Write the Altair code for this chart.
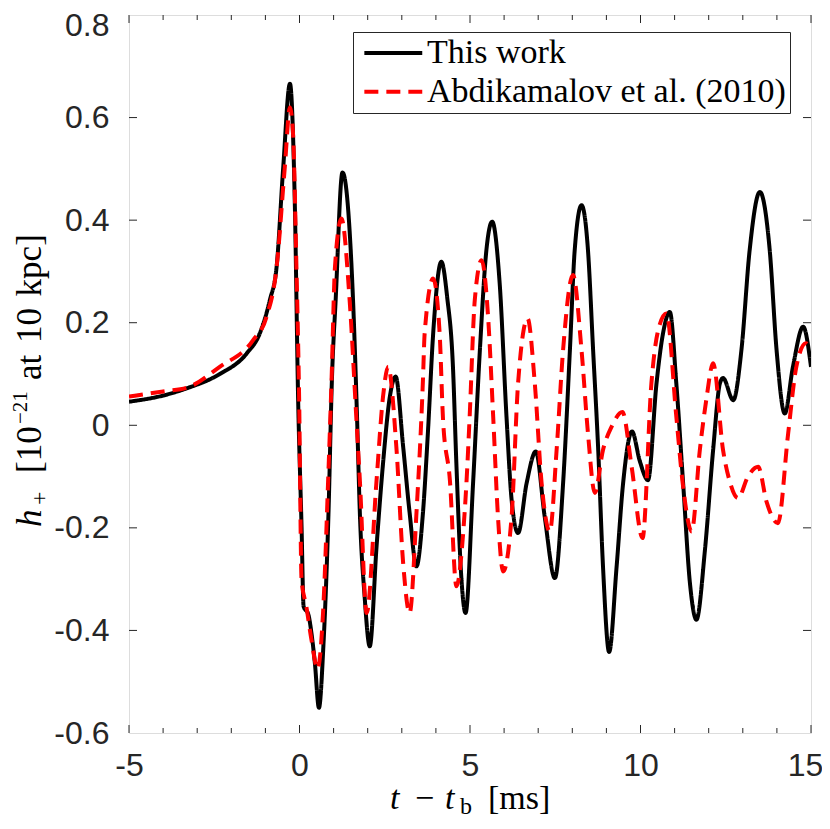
import altair as alt
import pandas as pd

# ---- data ----
t_this = [-5.0, -4.0, -3.31, -2.34, -1.55, -1.16, -0.87, -0.67, -0.48, -0.28, -0.14, -0.04,
          0.06, 0.12, 0.26, 0.35, 0.45, 0.57, 0.70, 0.85, 0.95, 1.06, 1.26, 1.57, 1.69, 1.77,
          1.91, 2.06, 2.26, 2.45, 2.65, 2.82, 3.04, 3.23, 3.43, 3.62, 3.77, 3.92, 4.16, 4.33,
          4.50, 4.60, 4.75, 4.87, 5.09, 5.29, 5.48, 5.65, 5.87, 6.07, 6.22, 6.41, 6.66, 6.93,
          7.19, 7.49, 7.73, 7.93, 8.07, 8.27, 8.46, 8.61, 8.76, 8.90, 9.08, 9.30, 9.49, 9.75,
          9.98, 10.22, 10.47, 10.66, 10.86, 11.05, 11.25, 11.45, 11.64, 11.89, 12.13, 12.33,
          12.42, 12.72, 12.96, 13.20, 13.50, 13.79, 13.99, 14.23, 14.47, 14.77, 15.0]
h_this = [0.046, 0.058, 0.072, 0.100, 0.140, 0.180, 0.244, 0.310, 0.500, 0.666, 0.440, 0.050,
          -0.197, -0.353, -0.369, -0.405, -0.463, -0.551, -0.431, -0.171, 0.088, 0.244, 0.493,
          0.244, 0.010, -0.171, -0.334, -0.431, -0.236, -0.074, 0.056, 0.095, -0.042, -0.171,
          -0.275, -0.171, -0.009, 0.179, 0.319, 0.250, 0.114, -0.074, -0.301, -0.366, -0.113,
          0.147, 0.341, 0.397, 0.277, 0.017, -0.145, -0.210, -0.113, -0.051, -0.178, -0.298,
          -0.113, 0.147, 0.341, 0.429, 0.341, 0.147, -0.048, -0.275, -0.442, -0.275, -0.113,
          -0.012, -0.070, -0.107, 0.082, 0.179, 0.221, 0.082, -0.113, -0.308, -0.379, -0.243,
          -0.048, 0.082, 0.092, 0.049, 0.147, 0.341, 0.455, 0.341, 0.147, 0.023, 0.114, 0.192,
          0.114]

t_abd = [-5.0, -4.0, -3.31, -2.34, -1.36, -0.97, -0.67, -0.43, -0.28, -0.19, -0.09, -0.01,
         0.06, 0.20, 0.35, 0.53, 0.69, 0.84, 0.94, 1.04, 1.23, 1.47, 1.67, 1.77, 1.97, 2.26,
         2.45, 2.60, 2.84, 3.04, 3.23, 3.43, 3.62, 3.67, 3.92, 4.11, 4.21, 4.41, 4.60, 4.80,
         4.90, 4.99, 5.14, 5.34, 5.53, 5.68, 5.82, 5.97, 6.22, 6.41, 6.69, 6.90, 7.10, 7.34,
         7.54, 7.73, 8.02, 8.27, 8.46, 8.66, 8.90, 9.15, 9.47, 9.74, 10.06, 10.32, 10.50,
         10.76, 11.05, 11.25, 11.50, 11.74, 11.93, 12.13, 12.42, 12.62, 12.86, 13.15, 13.45,
         13.70, 14.03, 14.33, 14.57, 14.85, 15.0]
h_abd = [0.056, 0.066, 0.073, 0.114, 0.166, 0.211, 0.309, 0.504, 0.620, 0.569, 0.309, 0.049,
         -0.301, -0.353, -0.418, -0.475, -0.366, -0.107, 0.088, 0.309, 0.403, 0.244, 0.010,
         -0.107, -0.366, -0.107, 0.056, 0.114, -0.042, -0.269, -0.366, -0.171, 0.088, 0.179,
         0.286, 0.179, 0.010, -0.107, -0.314, -0.210, -0.107, 0.017, 0.244, 0.322, 0.212,
         0.017, -0.178, -0.285, -0.178, 0.082, 0.208, 0.082, -0.113, -0.207, -0.048, 0.147,
         0.293, 0.147, -0.016, -0.132, -0.048, -0.003, 0.026, -0.081, -0.220, 0.082, 0.180,
         0.218, 0.017, -0.120, -0.207, -0.048, 0.050, 0.121, -0.048, -0.110, -0.142, -0.100,
         -0.081, -0.150, -0.191, -0.016, 0.114, 0.160, 0.147]

series_names = ["This work", "Abdikamalov et al. (2010)"]
x_major = [-5, 0, 5, 10, 15]
x_minor = [-4, -3, -2, -1, 1, 2, 3, 4, 6, 7, 8, 9, 11, 12, 13, 14]
y_labels = [-0.6, -0.4, -0.2, 0, 0.2, 0.4, 0.6, 0.8]
y_inner = [-0.4, -0.2, 0, 0.2, 0.4, 0.6]

# ---- layout constants ----
W, H = 682, 718
AX = "#262626"
SERIF = "Liberation Serif, Times New Roman, DejaVu Serif, serif"
SANS = "Liberation Sans, Arial, Helvetica, sans-serif"

df = pd.concat([
    pd.DataFrame({"t": t_this, "h": h_this, "s": series_names[0]}),
    pd.DataFrame({"t": t_abd, "h": h_abd, "s": series_names[1]}),
])

xs = alt.Scale(domain=[-5, 15], nice=False, zero=False)
ys = alt.Scale(domain=[-0.6, 0.8], nice=False, zero=False)

SYM = 19.3
legend_kw = dict(title=None, orient="none", legendX=224, legendY=17,
                 strokeColor=AX, fillColor="white", padding=4,
                 symbolType="M-1.0,0L5.0,0", symbolSize=SYM * SYM,
                 symbolStrokeWidth=4, labelFont=SERIF, labelFontSize=34,
                 labelColor="black", labelLimit=1000, labelOffset=36,
                 rowPadding=4.7, cornerRadius=0)

lines = alt.Chart(df).mark_line(strokeWidth=4, interpolate="monotone", clip=True).encode(
    x=alt.X("t:Q", scale=xs,
            axis=alt.Axis(values=x_major, tickSize=0, domain=False, grid=False, title=None,
                          labelFont=SANS, labelFontSize=32, labelColor=AX, labelPadding=17,
                          labelFlush=False,
                          labelOffset={"condition": {"test": "datum.value > 14", "value": -6},
                                       "value": 0},
                          labelExpr="toString(datum.value)")),
    y=alt.Y("h:Q", scale=ys,
            axis=alt.Axis(values=y_labels, tickSize=0, domain=False, grid=False, title=None,
                          labelFont=SANS, labelFontSize=32, labelColor=AX, labelPadding=20,
                          labelFlush=False,
                          labelOffset={"condition": {"test": "datum.value > 0.7", "value": 10},
                                       "value": 0},
                          labelExpr="toString(datum.value)")),
    color=alt.Color("s:N", sort=series_names,
                    scale=alt.Scale(domain=series_names, range=["#000000", "#ff0000"]),
                    legend=alt.Legend(**legend_kw)),
    strokeDash=alt.StrokeDash("s:N", sort=series_names,
                              scale=alt.Scale(domain=series_names, range=[[1, 0], [14, 8]]),
                              legend=alt.Legend(**legend_kw)),
    order=alt.Order("t:Q"),
)

# inward ticks
def xticks(vals, length, bottom=True):
    d = pd.DataFrame({"t": vals})
    y1, y2 = (H, H - length) if bottom else (0, length)
    return alt.Chart(d).mark_rule(color=AX, strokeWidth=1).encode(
        x=alt.X("t:Q", scale=xs), y=alt.value(y1), y2=alt.value(y2))

def yticks(vals, length, left=True):
    d = pd.DataFrame({"h": vals})
    x1, x2 = (0, length) if left else (W, W - length)
    return alt.Chart(d).mark_rule(color=AX, strokeWidth=1).encode(
        y=alt.Y("h:Q", scale=ys), x=alt.value(x1), x2=alt.value(x2))

ticks = [xticks(x_major, 8, True), xticks(x_major, 8, False),
         xticks(x_minor, 5, True), xticks(x_minor, 5, False),
         yticks(y_inner, 8, True), yticks(y_inner, 8, False)]

one = pd.DataFrame({"a": [0]})

def txt(s, x, y, size, italic=False, angle=0):
    kw = dict(text=s, font=SERIF, fontSize=size, color="black", align="left",
              baseline="alphabetic")
    if italic:
        kw["fontStyle"] = "italic"
    if angle:
        kw["angle"] = angle
    return alt.Chart(one).mark_text(**kw).encode(x=alt.value(x), y=alt.value(y))

# x-axis title: t - t_b [ms]
XB = 794
xt = [txt("t", 261, XB, 34, italic=True),
      txt("\u2212", 286, XB, 34),
      txt("t", 316, XB, 34, italic=True),
      txt("b", 331, XB + 5, 24),
      txt("[ms]", 359, XB, 34)]

# y-axis title: h_+ [10^-21 at 10 kpc]
SP = "\u2004"
yt = [txt("h", -88, 512, 35, italic=True, angle=270),
      txt("+", -82, 490, 24, angle=270),
      txt("[10", -88, 458, 35, angle=270),
      txt("\u221221", -102, 409, 21, angle=270),
      txt("at" + SP + "10" + SP + "kpc]", -88, 365, 35, angle=270)]

chart = alt.layer(lines, *ticks, *xt, *yt).properties(
    width=W, height=H,
    autosize=alt.AutoSizeParams(type="none"),
    padding={"left": 121, "top": 7, "right": 11, "bottom": 88},
).configure_view(stroke=AX, strokeWidth=1).configure(background="white")

chart.save("out.html", embed_options={"renderer": "svg", "actions": False})
